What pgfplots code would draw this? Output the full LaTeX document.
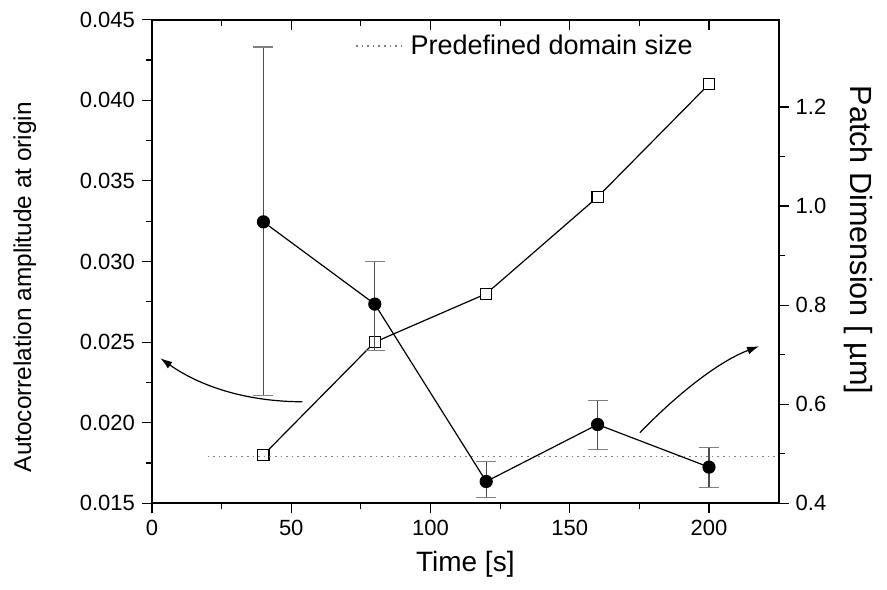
\documentclass[border=0pt]{standalone}
\usepackage{fontspec}
\setmainfont{Liberation Sans}
\usepackage{pgfplots}
\pgfplotsset{compat=1.18}
\usetikzlibrary{arrows.meta}

\begin{document}
\begin{tikzpicture}
\path[use as bounding box] (-76pt,-42.85pt) rectangle (367.5pt,251.65pt);
\pgfplotsset{
  every axis/.append style={
    scale only axis, width=313.3pt, height=241.8pt,
    xmin=0, xmax=225, at={(0,0)}, anchor=south west,
    tick style={black, line width=0.6pt},
    major tick length=5pt, minor tick length=3pt,
    axis line style={line width=1pt},
    /pgf/number format/assume math mode=true,
    tick label style={font=\fontsize{11}{13}\selectfont},
  }
}
% left axis: autocorrelation amplitude
\begin{axis}[
  ymin=0.015, ymax=0.045,
  xtick={0,50,100,150,200}, minor x tick num=1,
  ytick={0.015,0.02,0.025,0.03,0.035,0.04,0.045}, minor y tick num=1,
  xtick pos=bottom, ytick pos=left, tick align=outside,
  scaled y ticks=false,
  yticklabel style={/pgf/number format/.cd, fixed, fixed zerofill, precision=3},
  xlabel={Time [s]},
  ylabel={Autocorrelation amplitude at origin},
  xlabel style={at={(axis description cs:0.5,0)}, anchor=center, yshift=-30.5pt,
    font=\fontsize{14}{16}\selectfont},
  ylabel style={at={(axis description cs:-0.203,0.447)}, anchor=center,
    font=\fontsize{12.2}{14}\selectfont},
]
\addplot[black, line width=0.6pt, mark=square*, mark size=2.8pt,
  mark options={fill=white, line width=0.6pt}]
  coordinates {(40,0.018) (80,0.025) (120,0.028) (160,0.034) (200,0.041)};
\draw[line width=0.6pt, -{Latex[length=6pt,width=4pt]}]
  (axis cs:54,0.0213) .. controls (axis cs:34.7,0.0213) and (axis cs:17.7,0.0222) .. (axis cs:3,0.0240);
\end{axis}
% right axis: patch dimension
\begin{axis}[
  axis x line=none, axis y line*=right,
  ymin=0.4, ymax=1.376,
  ytick={0.4,0.6,0.8,1.0,1.2}, minor y tick num=1,
  tick align=outside,
  yticklabel style={/pgf/number format/.cd, fixed, fixed zerofill, precision=1},
  ylabel={Patch Dimension [ µm]},
  ylabel style={at={(axis description cs:1.1267,0.5445)}, anchor=center, rotate=180,
    font=\fontsize{15.3}{18}\selectfont},
  legend style={at={(axis description cs:0.324,0.9456)}, anchor=west,
    draw=none, fill=none, inner sep=0pt, font=\fontsize{13.5}{16}\selectfont},
  legend image code/.code={\draw[#1] (0pt,0pt) -- (25pt,0pt);},
]
\addplot[gray, line width=0.6pt, dash pattern=on 0.8pt off 2pt]
  coordinates {(20,0.495) (225,0.495)};
\addlegendentry{Predefined domain size}
\addplot[forget plot, black, line width=0.6pt, mark=*, mark size=3pt,
  error bars/.cd, y dir=both, y explicit,
  error bar style={gray!60!black, line width=0.6pt},
  error mark options={rotate=90, gray, mark size=5pt, line width=0.6pt}]
  table[x=x, y=y, y error plus=ep, y error minus=em] {
x   y     ep    em
40  0.968 0.353 0.351
80  0.802 0.086 0.093
120 0.444 0.040 0.032
160 0.559 0.048 0.051
200 0.473 0.040 0.041
};
\draw[line width=0.6pt, -{Latex[length=6pt,width=4pt]}]
  (axis cs:175.2,0.5425) .. controls (axis cs:190.4,0.6308) and (axis cs:204.7,0.689) .. (axis cs:218,0.717);
\end{axis}
% top ticks pointing inward
\begin{axis}[
  axis y line=none, axis x line*=top, tick align=inside,
  ymin=0, ymax=1,
  xtick={0,50,100,150,200}, minor x tick num=1, xticklabels={},
]
\addplot[draw=none] coordinates {(0,0)};
\end{axis}
\end{tikzpicture}
\end{document}
